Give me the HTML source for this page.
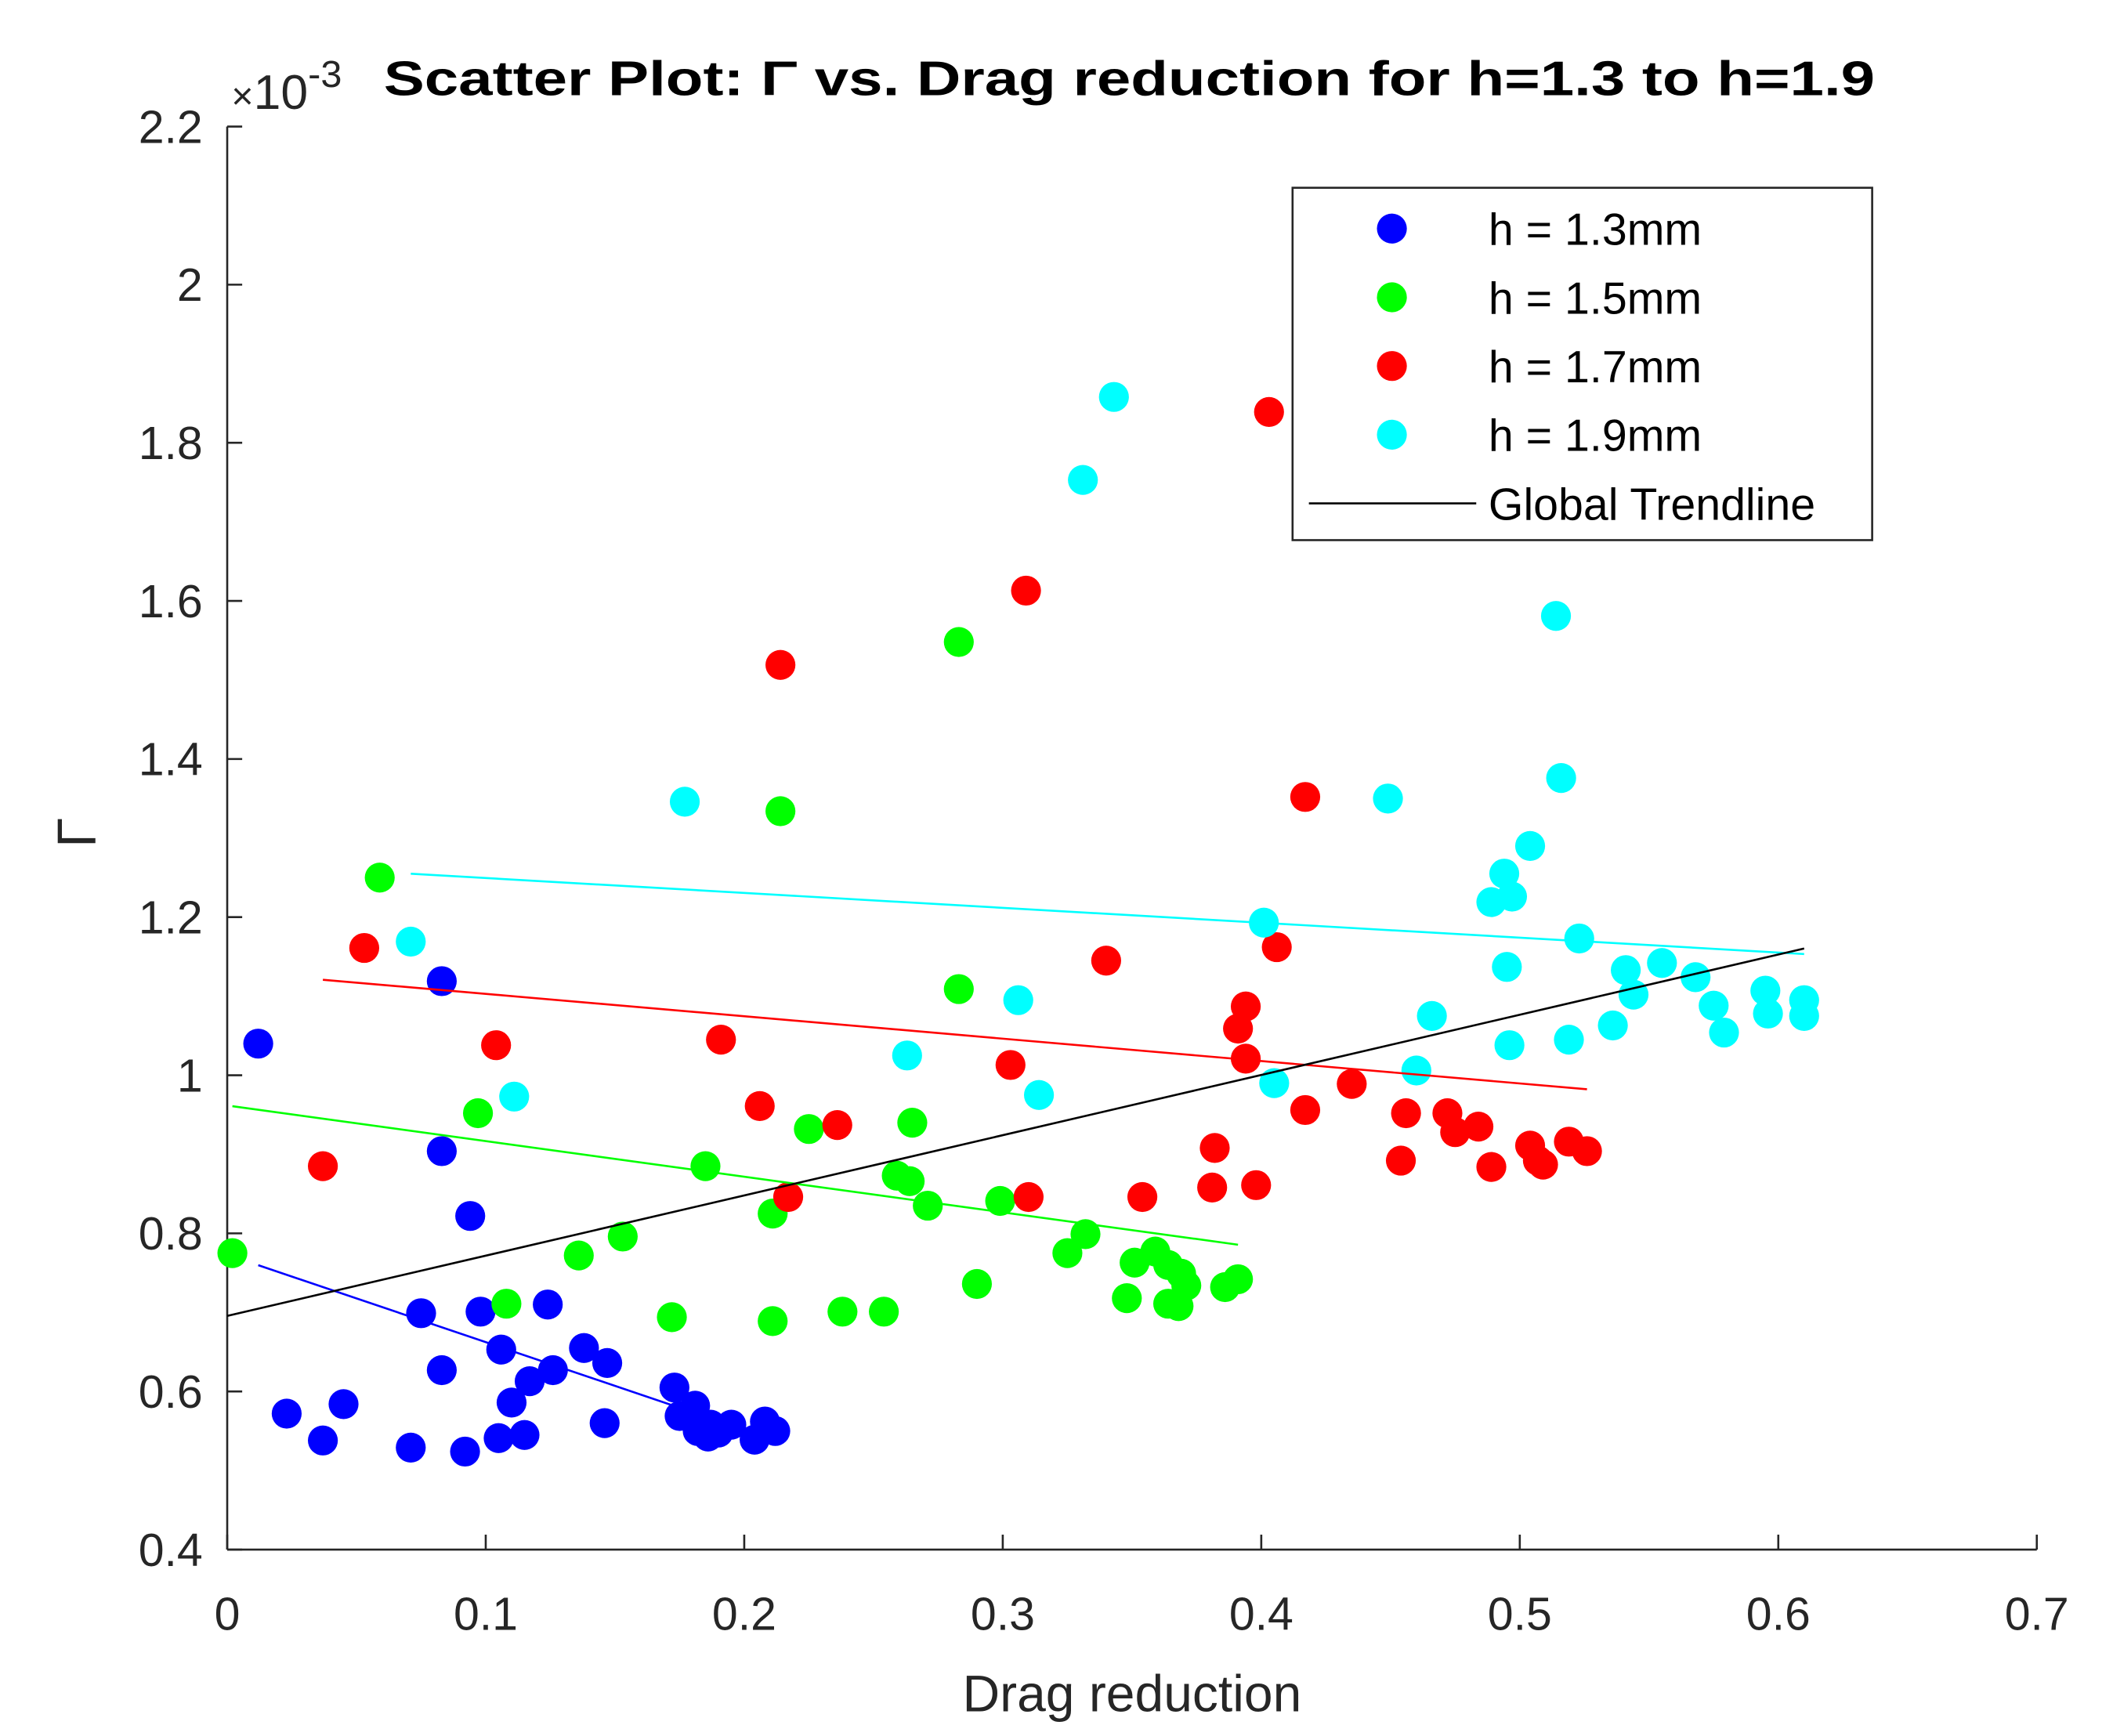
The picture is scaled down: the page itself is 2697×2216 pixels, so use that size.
<!DOCTYPE html>
<html><head><meta charset="utf-8"><style>html,body{margin:0;padding:0;background:#fff}svg{display:block}text{font-family:"Liberation Sans",sans-serif}</style></head>
<body>
<svg id="chart" width="2697" height="2216" viewBox="0 0 1553 1276" xmlns="http://www.w3.org/2000/svg">
<rect width="1553" height="1276" fill="#fff"/>
<g id="plot"></g>
</svg>
<script>
const xTicks=[0,0.1,0.2,0.3,0.4,0.5,0.6,0.7];
const yTicks=[0.4,0.6,0.8,1,1.2,1.4,1.6,1.8,2,2.2];
const yTickLabels=["0.4","0.6","0.8","1","1.2","1.4","1.6","1.8","2","2.2"];
const seriesNames=["h = 1.3mm","h = 1.5mm","h = 1.7mm","h = 1.9mm"];
const seriesColors=["#0000ff","#00ff00","#ff0000","#00ffff"];
const blueX=[0.012,0.023,0.037,0.045,0.071,0.075,0.083,0.083,0.083,0.092,0.094,0.098,0.105,0.106,0.110,0.115,0.117,0.124,0.126,0.138,0.147,0.146,0.173,0.175,0.181,0.182,0.186,0.187,0.190,0.195,0.204,0.208,0.212];
const blueY=[1.040,0.572,0.538,0.584,0.529,0.699,0.627,1.119,0.904,0.524,0.822,0.701,0.541,0.653,0.586,0.545,0.613,0.710,0.627,0.655,0.636,0.560,0.605,0.569,0.582,0.550,0.543,0.558,0.548,0.558,0.539,0.562,0.550];
const greenX=[0.002,0.059,0.097,0.108,0.136,0.153,0.172,0.185,0.211,0.211,0.214,0.225,0.238,0.254,0.259,0.264,0.265,0.271,0.283,0.283,0.290,0.299,0.325,0.332,0.348,0.351,0.359,0.364,0.364,0.368,0.369,0.371,0.386,0.391];
const greenY=[0.775,1.250,0.952,0.711,0.772,0.796,0.694,0.885,0.825,0.689,1.334,0.932,0.701,0.701,0.873,0.866,0.940,0.835,1.548,1.109,0.736,0.841,0.775,0.799,0.718,0.763,0.777,0.760,0.711,0.708,0.749,0.734,0.732,0.742];
const redX=[0.037,0.053,0.104,0.191,0.206,0.214,0.217,0.236,0.303,0.309,0.310,0.340,0.354,0.381,0.382,0.391,0.394,0.394,0.398,0.403,0.406,0.417,0.417,0.435,0.454,0.456,0.472,0.475,0.484,0.489,0.504,0.507,0.509,0.519,0.526];
const redY=[0.885,1.161,1.038,1.045,0.961,1.519,0.846,0.937,1.013,1.613,0.846,1.145,0.846,0.858,0.908,1.059,1.087,1.021,0.861,1.839,1.162,0.956,1.352,0.989,0.892,0.952,0.952,0.928,0.935,0.884,0.911,0.892,0.887,0.916,0.904];
const cyanX=[0.071,0.111,0.177,0.263,0.306,0.314,0.331,0.343,0.401,0.405,0.449,0.460,0.466,0.489,0.494,0.495,0.496,0.497,0.504,0.514,0.516,0.519,0.523,0.536,0.541,0.544,0.555,0.568,0.575,0.579,0.595,0.596,0.610,0.610];
const cyanY=[1.169,0.973,1.346,1.025,1.095,0.975,1.753,1.858,1.193,0.990,1.350,1.006,1.075,1.219,1.255,1.137,1.038,1.226,1.290,1.581,1.376,1.045,1.173,1.063,1.133,1.102,1.142,1.124,1.088,1.054,1.107,1.078,1.095,1.075];

const NS="http://www.w3.org/2000/svg";
const X0=167,X1=1497,Y0=1139,Y1=93;
const sx=v=>X0+(v-0)/(0.7-0)*(X1-X0);
const sy=v=>Y0-(v-0.4)/(2.2-0.4)*(Y0-Y1);
const g=document.getElementById('plot');
function mk(tag,attrs,parent){const e=document.createElementNS(NS,tag);for(const k in attrs)e.setAttribute(k,attrs[k]);(parent||g).appendChild(e);return e;}
function fit(xs,ys){const n=xs.length;let mx=0,my=0;for(let i=0;i<n;i++){mx+=xs[i];my+=ys[i];}mx/=n;my/=n;let sxy=0,sxx=0;for(let i=0;i<n;i++){sxy+=(xs[i]-mx)*(ys[i]-my);sxx+=(xs[i]-mx)**2;}const b=sxy/sxx;return {a:my-b*mx,b:b,min:Math.min(...xs),max:Math.max(...xs)};}

let ax=mk('line',{x1:X0,y1:Y0,x2:X1,y2:Y0,stroke:'#262626','stroke-width':1.5});

let ay=mk('line',{x1:X0,y1:Y0,x2:X0,y2:Y1,stroke:'#262626','stroke-width':1.5});

xTicks.forEach(v=>{
  const t=mk('line',{x1:sx(v),y1:Y0,x2:sx(v),y2:Y0-11,stroke:'#262626','stroke-width':1.5});
  
  const l=mk('text',{x:sx(v),y:Y0+59,'text-anchor':'middle','font-size':34,fill:'#262626'});
  l.textContent=String(v);
  
});
yTicks.forEach((v,i)=>{
  const t=mk('line',{x1:X0,y1:sy(v),x2:X0+11,y2:sy(v),stroke:'#262626','stroke-width':1.5});
  
  const l=mk('text',{x:X0-18,y:sy(v)+12,'text-anchor':'end','font-size':34,fill:'#262626'});
  l.textContent=yTickLabels[i];
  
});
const ex=mk('text',{x:170,y:80,'font-size':36,fill:'#262626'});
ex.innerHTML='<tspan font-size="28">×</tspan>10<tspan dy="-16" font-size="28">-3</tspan>';

const ti=mk('text',{x:282,y:70,'font-size':36,'font-weight':'bold',fill:'#000',textLength:1096,lengthAdjust:'spacingAndGlyphs'});
ti.textContent='Scatter Plot: Γ vs. Drag reduction for h=1.3 to h=1.9';

const xl=mk('text',{x:832,y:1258,'text-anchor':'middle','font-size':38,fill:'#262626'});
xl.textContent='Drag reduction';

const yl=mk('text',{x:0,y:0,'text-anchor':'middle','font-size':40,fill:'#262626','font-family':'Liberation Serif, serif',transform:'translate(70,612) rotate(-90)'});
yl.textContent='Γ';


const allX=[blueX,greenX,redX,cyanX], allY=[blueY,greenY,redY,cyanY];
allX.forEach((xs,s)=>{
  xs.forEach((x,i)=>{
    const c=mk('circle',{cx:sx(x),cy:sy(allY[s][i]),r:11,fill:seriesColors[s]});
    
    
  });
});
allX.forEach((xs,s)=>{
  const f=fit(xs,allY[s]);
  const l=mk('line',{x1:sx(f.min),y1:sy(f.a+f.b*f.min),x2:sx(f.max),y2:sy(f.a+f.b*f.max),stroke:seriesColors[s],'stroke-width':1.5});
  
  
});
const GX=[].concat(...allX), GY=[].concat(...allY);
const gf=fit(GX,GY);
const gl=mk('line',{x1:sx(0),y1:sy(gf.a),x2:sx(gf.max),y2:sy(gf.a+gf.b*gf.max),stroke:'#000','stroke-width':1.5});



const lg=mk('g',{});


mk('rect',{x:950,y:138,width:426,height:259,fill:'#fff',stroke:'#262626','stroke-width':1.5},lg);
seriesNames.forEach((n,i)=>{
  const y=168+i*50.5;
  const e=mk('g',{},lg);
  
  
  mk('circle',{cx:1023,cy:y,r:11,fill:seriesColors[i]},e);
  const t=mk('text',{x:1094,y:y+12,'font-size':33,fill:'#000'},e);t.textContent=n;
});
const e5=mk('g',{},lg);


mk('line',{x1:962,y1:370,x2:1085,y2:370,stroke:'#000','stroke-width':1.5},e5);
const t5=mk('text',{x:1094,y:382,'font-size':33,fill:'#000'},e5);t5.textContent='Global Trendline';
</script>
</body></html>
